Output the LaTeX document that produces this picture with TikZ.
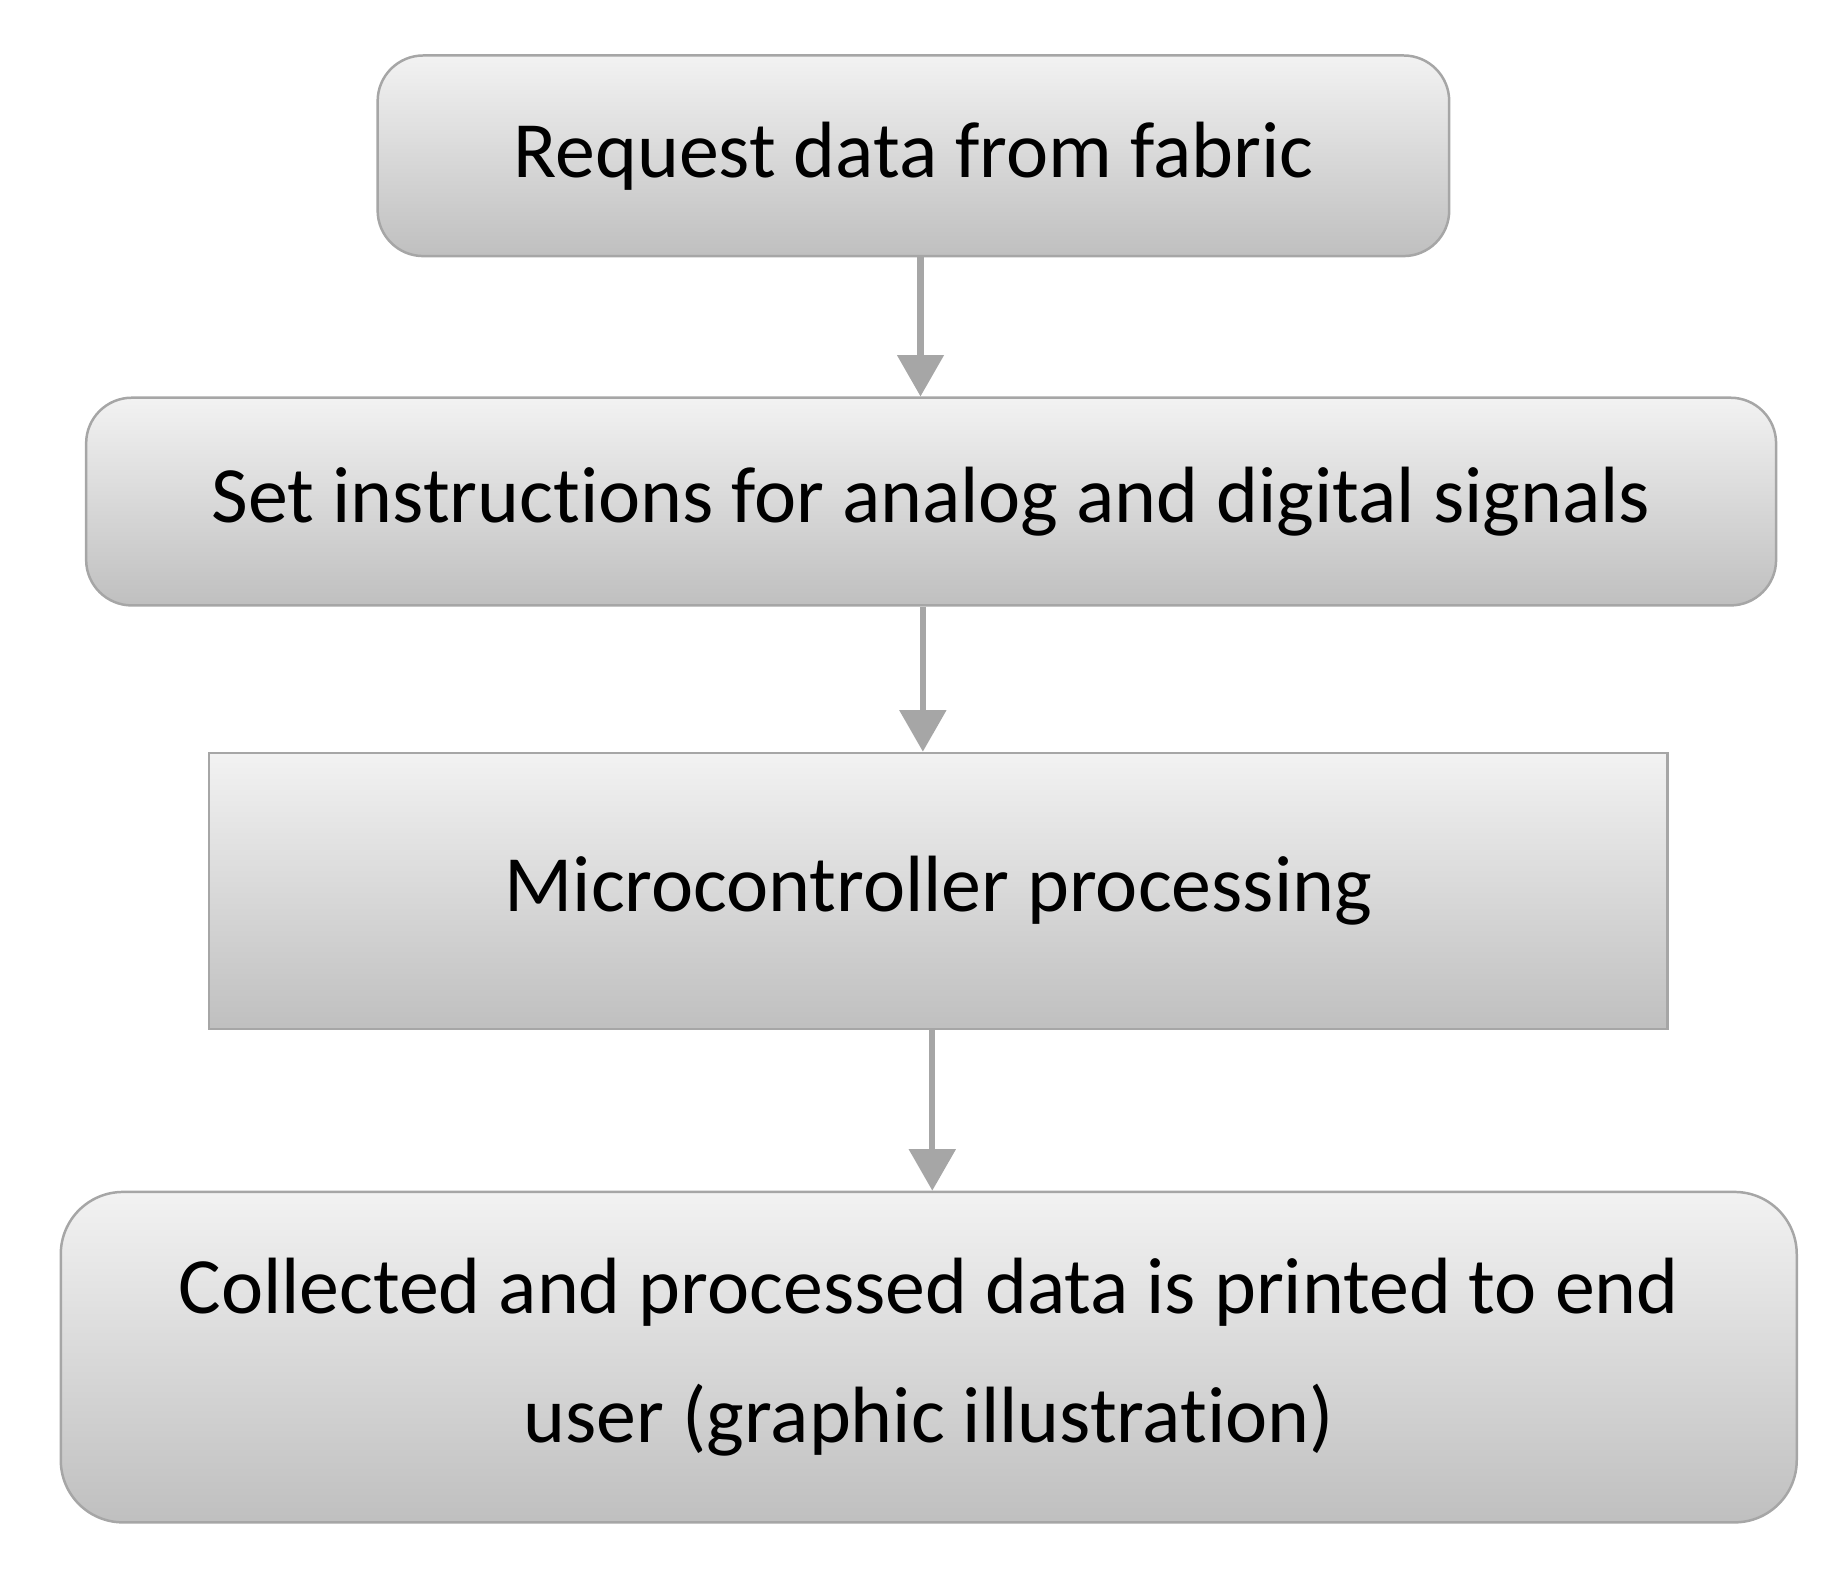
\documentclass[tikz,border=0pt]{standalone}
\usepackage{fontspec}
\setmainfont{Carlito}[Ligatures=NoCommon]
\usetikzlibrary{arrows.meta}
\begin{document}
\begin{tikzpicture}[x=0.02cm,y=-0.02cm,
    stage/.style={draw=gray!70, line width=1.2pt, top color=gray!10, bottom color=gray!50,
      inner sep=0pt, align=center, font=\fontsize{38.5}{62}\selectfont},
    link/.style={draw=gray!70, line width=3pt, -{Triangle[width=22pt,length=20pt]}}]
  \useasboundingbox (0,0) rectangle (1560,1330);
  % boxes
  \node[stage, rounded corners=22pt, minimum width=908*0.02cm, minimum height=170*0.02cm]
    (request) at (774,132) {Request data from fabric};
  \node[stage, rounded corners=22pt, minimum width=1432*0.02cm, minimum height=176*0.02cm]
    (instr) at (789,425) {Set instructions for analog and digital signals};
  \node[stage, minimum width=1236*0.02cm, minimum height=234*0.02cm]
    (micro) at (795,755) {Microcontroller processing};
  \node[stage, rounded corners=30pt, minimum width=1471*0.02cm, minimum height=280*0.02cm]
    (output) at (787,1150) {Collected and processed data is printed to end\\user (graphic illustration)};
  % arrows
  \draw[link] (request.south -| 780,0) -- (instr.north -| 780,0);
  \draw[link] (instr.south -| 782,0) -- (micro.north -| 782,0);
  \draw[link] (micro.south -| 790,0) -- (output.north -| 790,0);
\end{tikzpicture}
\end{document}
